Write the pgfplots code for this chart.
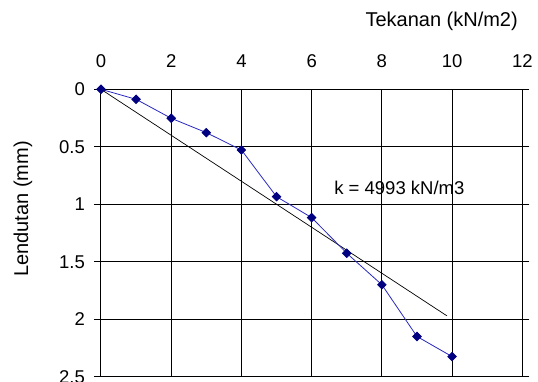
\documentclass[border=0pt]{standalone}
\usepackage{pgfplots}
\pgfplotsset{compat=1.18}
\usepackage{fontspec}
\setmainfont{Liberation Sans}
\definecolor{navy}{RGB}{0,0,128}
\definecolor{lineblue}{RGB}{40,40,190}
\begin{document}
\begin{tikzpicture}[x=1pt,y=1pt]
\useasboundingbox (-101,-4.3) rectangle (437,376.7);
\begin{axis}[
  at={(0,0)}, anchor=south west,
  scale only axis,
  width=421.3pt, height=287.4pt,
  xmin=0, xmax=12, ymin=0, ymax=2.5,
  y dir=reverse,
  xtick={0,2,...,12},
  ytick={0,0.5,1,1.5,2,2.5},
  yticklabels={0,0.5,1,1.5,2,2.5},
  xticklabel pos=right,
  grid=major,
  major grid style={black, line width=1pt},
  axis line style={black, line width=1pt},
  x tick style={draw=none},
  y tick style={black, line width=1pt},
  ytick align=outside,
  major tick length=7pt,
  tick label style={font=\fontsize{18.5}{20}\selectfont},
  /pgf/number format/assume math mode=true,
  xticklabel style={anchor=center, yshift=28pt},
  yticklabel style={anchor=east, inner sep=0pt, xshift=-9pt},
  clip=false,
]
\addplot[black, line width=0.7pt] coordinates {(0,0) (9.85,1.97)};
\addplot[lineblue, line width=0.8pt, mark=square*, mark size=3pt,
  mark options={fill=navy, draw=navy, rotate=45}] coordinates {
  (0,0) (1,0.087) (2,0.252) (3,0.377) (4,0.528) (5,0.934)
  (6,1.116) (7,1.426) (8,1.70) (9,2.15) (10,2.325)
};
\node[font=\fontsize{18.5}{20}\selectfont, anchor=west, inner sep=0pt] at (axis cs:6.64,0.854) {k = 4993 kN/m3};
\end{axis}
\node[font=\fontsize{20}{22}\selectfont, anchor=east, inner sep=0pt] at (417,355.7) {Tekanan (kN/m2)};
\node[font=\fontsize{20}{22}\selectfont, rotate=90, inner sep=0pt] at (-78,167.7) {Lendutan (mm)};
\end{tikzpicture}
\end{document}
